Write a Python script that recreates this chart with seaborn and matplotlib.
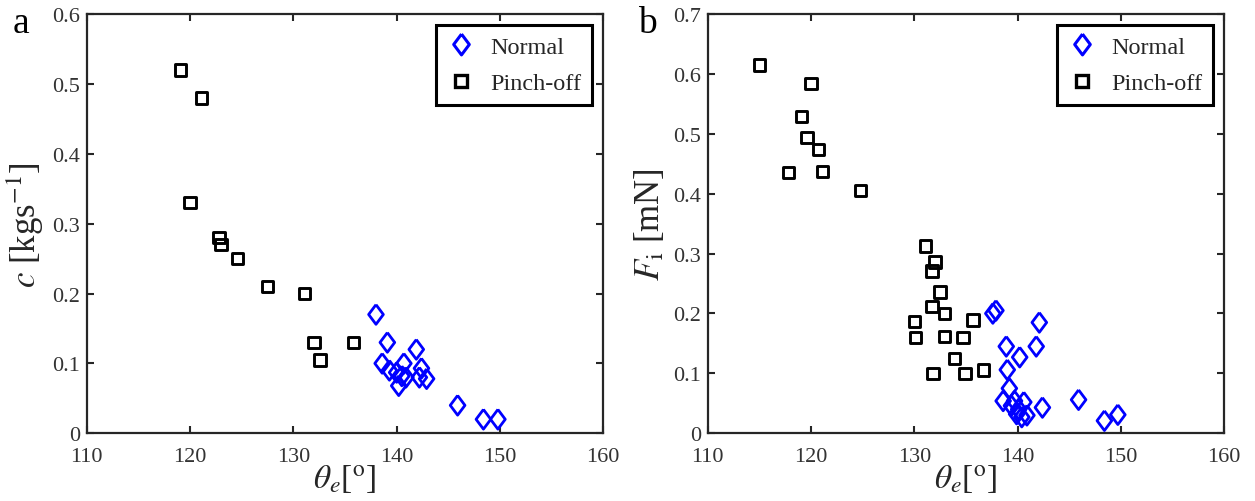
import matplotlib
matplotlib.use('Agg')
import matplotlib.pyplot as plt
import seaborn as sns
from matplotlib.lines import Line2D

# ---------------- data ----------------
# panel a: c [kg s^-1] vs theta_e
a_pinch_theta = [119.1, 121.1, 120.0, 122.8, 123.0, 124.6, 127.5, 131.1, 132.0, 132.6, 135.8]
a_pinch_c     = [0.52, 0.48, 0.33, 0.28, 0.27, 0.25, 0.21, 0.20, 0.13, 0.105, 0.13]
a_normal_theta = [138.0, 139.1, 141.9, 138.6, 140.7, 139.3, 140.0, 142.4, 140.5, 142.2,
                  142.9, 140.9, 140.2, 145.9, 148.4, 149.8]
a_normal_c     = [0.17, 0.13, 0.12, 0.10, 0.10, 0.09, 0.087, 0.093, 0.082, 0.08,
                  0.078, 0.08, 0.068, 0.04, 0.02, 0.02]

# panel b: F_i [mN] vs theta_e
b_pinch_theta = [115.0, 120.0, 119.1, 119.6, 120.7, 117.8, 121.1, 124.8,
                 131.1, 132.0, 131.7, 132.5, 131.7, 132.9, 130.0, 135.7,
                 130.1, 132.9, 134.7, 133.9, 136.7, 131.8, 134.9]
b_pinch_F     = [0.615, 0.584, 0.529, 0.494, 0.474, 0.435, 0.437, 0.405,
                 0.313, 0.286, 0.271, 0.236, 0.212, 0.200, 0.187, 0.189,
                 0.160, 0.162, 0.160, 0.125, 0.106, 0.100, 0.100]
b_normal_theta = [137.6, 137.9, 142.1, 138.9, 141.8, 140.2, 139.0, 139.2, 138.6, 139.7,
                  140.6, 139.4, 140.1, 139.9, 140.4, 140.9, 142.4, 145.9, 148.4, 149.7]
b_normal_F     = [0.200, 0.205, 0.185, 0.145, 0.145, 0.127, 0.106, 0.075, 0.054, 0.054,
                  0.052, 0.046, 0.040, 0.032, 0.027, 0.030, 0.043, 0.056, 0.021, 0.031]

x_ticks = [110, 120, 130, 140, 150, 160]
a_yticks = [0, 0.1, 0.2, 0.3, 0.4, 0.5, 0.6]
b_yticks = [0, 0.1, 0.2, 0.3, 0.4, 0.5, 0.6, 0.7]
legend_labels = ['Normal', 'Pinch-off']

# ---------------- style ----------------
sns.set_theme(style='ticks')
plt.rcParams['font.family'] = ['Liberation Serif', 'DejaVu Serif']
plt.rcParams['mathtext.fontset'] = 'stix'

BLUE = '#0000ff'
BLACK = '#000000'
AXC = '#262626'
DIAMOND = [(0, 1), (0.75, 0), (0, -1), (-0.75, 0), (0, 1)]

fig = plt.figure(figsize=(12.55, 5.02), dpi=100)
ax1 = fig.add_axes([0.0691, 0.1349, 0.4116, 0.8352])
ax2 = fig.add_axes([0.5639, 0.1349, 0.4116, 0.8352])


def draw(ax, nx, ny, px, py, yticks, ylim, ylabel):
    sns.scatterplot(x=nx, y=ny, ax=ax, marker=DIAMOND, s=200,
                    facecolor='none', edgecolor=BLUE, linewidth=2.0, zorder=3)
    sns.scatterplot(x=px, y=py, ax=ax, marker='s', s=68,
                    facecolor='none', edgecolor=BLACK, linewidth=2.1, zorder=3)
    ax.set_xlim(110, 160)
    ax.set_ylim(*ylim)
    ax.set_xticks(x_ticks)
    ax.set_yticks(yticks)
    ax.set_xticklabels([str(t) for t in x_ticks])
    ax.set_yticklabels(['0' if t == 0 else f'{t:g}' for t in yticks])
    ax.tick_params(direction='in', length=5, width=1.5, color=AXC,
                   labelsize=16, labelcolor='#333333', top=True, right=True, pad=5)
    ax.tick_params(axis='x', pad=10)
    for sp in ax.spines.values():
        sp.set_color(AXC)
        sp.set_linewidth(1.6)
        sp.set_visible(True)
    ax.set_xlabel(r'$\theta_e$[$^{\mathrm{o}}$]', fontsize=24, labelpad=-3)
    ax.set_ylabel(ylabel, fontsize=25, labelpad=4)
    handles = [
        Line2D([], [], marker=DIAMOND, markersize=15, mfc='none', mec=BLUE, mew=2.2, ls=''),
        Line2D([], [], marker='s', markersize=9, mfc='none', mec=BLACK, mew=2.4, ls=''),
    ]
    leg = ax.legend(handles, legend_labels, loc='upper right', fontsize=17.5,
                    frameon=True, fancybox=False, edgecolor='black', framealpha=1,
                    borderaxespad=0.45, handletextpad=0.6, labelspacing=0.6,
                    borderpad=0.45, handlelength=1.2)
    leg.get_frame().set_linewidth(2.2)


draw(ax1, a_normal_theta, a_normal_c, a_pinch_theta, a_pinch_c,
     a_yticks, (0, 0.6), r'$c$ [kgs$^{\mathrm{-1}}$]')
draw(ax2, b_normal_theta, b_normal_F, b_pinch_theta, b_pinch_F,
     b_yticks, (0, 0.7), r'$F_{\mathrm{i}}$ [mN]')

fig.text(0.010, 0.935, 'a', fontsize=27, color='black')
fig.text(0.508, 0.935, 'b', fontsize=27, color='black')

fig.savefig('out.png', dpi=100)
